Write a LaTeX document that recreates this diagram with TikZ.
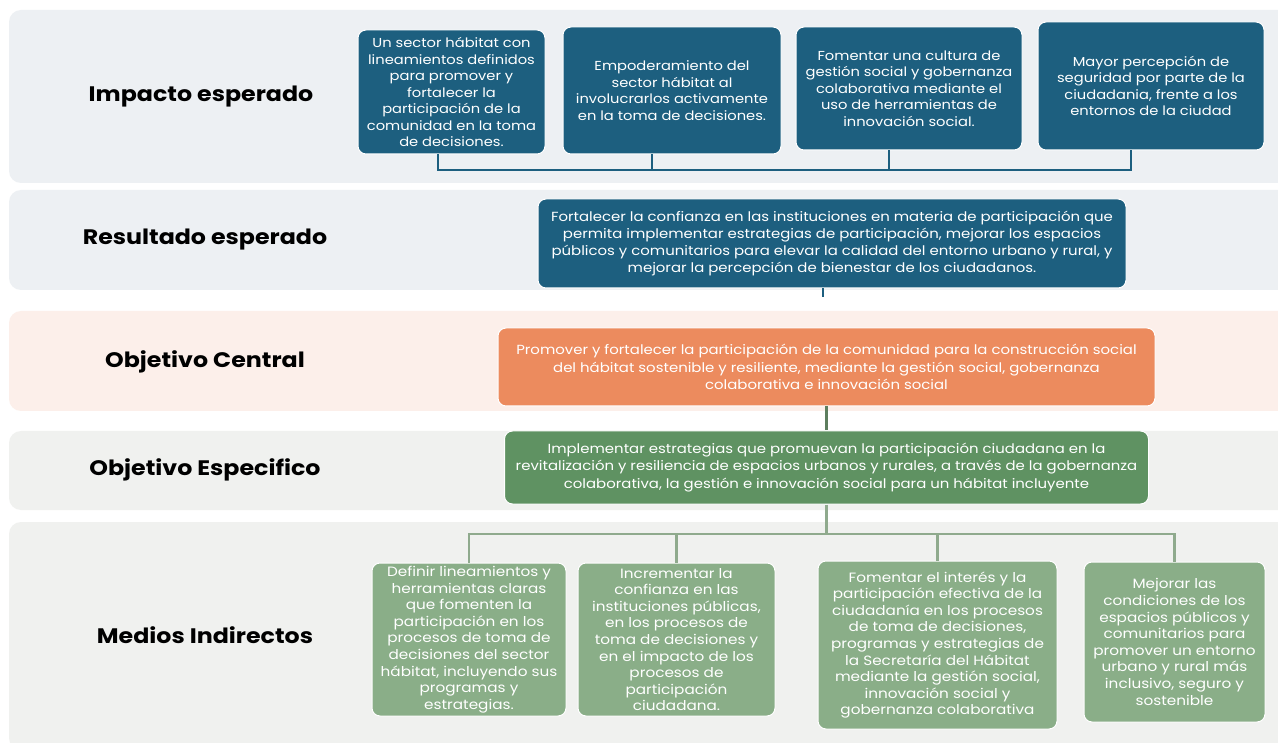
\documentclass[tikz,border=0pt]{standalone}
\usepackage{fontspec}
\setmainfont{Poppins}[FakeStretch=1.13]
\definecolor{bandA}{HTML}{EDF0F3}
\definecolor{bandC}{HTML}{FCEFEA}
\definecolor{bandD}{HTML}{F0F1EF}
\definecolor{blueBox}{HTML}{1D5F7F}
\definecolor{orangeBox}{HTML}{EC8B5E}
\definecolor{greenBox}{HTML}{5F9262}
\definecolor{lightGreen}{HTML}{8AAE88}
\definecolor{lineGreen}{HTML}{8FAA8D}
\definecolor{darkLine}{HTML}{5D7E5E}
\tikzset{
  band/.style={rounded corners=12pt, draw=none},
  rowlabel/.style={font=\bfseries\fontsize{21}{24}\selectfont, text=black, anchor=center},
  box/.style={rounded corners=8pt, draw=white, line width=1pt, text=white, align=center, inner sep=2pt},
  impbox/.style={box, fill=blueBox, font=\fontsize{13}{16.5}\selectfont},
  medbox/.style={box, fill=lightGreen, font=\fontsize{13.5}{16.6}\selectfont},
  wbox/.style={box, font=\fontsize{13.2}{17.3}\selectfont},
  impline/.style={draw=blueBox, line width=1.8pt},
  grnline/.style={draw=lineGreen, line width=2.4pt},
}
\begin{document}
\begin{tikzpicture}[x=1pt,y=-1pt]
\useasboundingbox[fill=white] (0,0) rectangle (1278,743);
% bands
\fill[band, bandA] (9,10) rectangle (1290,183);
\fill[band, bandA] (9,190) rectangle (1290,290);
\fill[band, bandC] (9,311) rectangle (1290,411);
\fill[band, bandD] (9,431) rectangle (1290,510);
\fill[band, bandD] (9,522) rectangle (1290,750);
% row labels
\node[rowlabel] (l1) at (201,97) {Impacto esperado};
\node[rowlabel] (l2) at (205,240) {Resultado esperado};
\node[rowlabel] (l3) at (205,362) {Objetivo Central};
\node[rowlabel] (l4) at (205,470) {Objetivo Especifico};
\node[rowlabel] (l5) at (205,635) {Medios Indirectos};
% impact boxes
\node[impbox, minimum width=187pt, minimum height=124pt] (b1) at (451.5,92)
 {Un sector hábitat con\\lineamientos definidos\\para promover y\\fortalecer la\\participación de la\\comunidad en la toma\\de decisiones.};
\node[impbox, minimum width=218pt, minimum height=127pt] (b2) at (672,90.5)
 {Empoderamiento del\\sector hábitat al\\involucrarlos activamente\\en la toma de decisiones.};
\node[impbox, minimum width=226pt, minimum height=123pt] (b3) at (909,88.5)
 {Fomentar una cultura de\\gestión social y gobernanza\\colaborativa mediante el\\uso de herramientas de\\innovación social.};
\node[impbox, minimum width=226pt, minimum height=128pt] (b4) at (1151,86)
 {Mayor percepción de\\seguridad por parte de la\\ciudadania, frente a los\\entornos de la ciudad};
\coordinate (ib) at (0,170);
\draw[impline] ([xshift=-13.5pt]b1.south) -- ([xshift=-13.5pt]b1.south |- ib) -- ([xshift=-20pt]b4.south |- ib) -- ([xshift=-20pt]b4.south);
\draw[impline] ([xshift=-20pt]b2.south) -- ([xshift=-20pt]b2.south |- ib);
\draw[impline] ([xshift=-20pt]b3.south) -- ([xshift=-20pt]b3.south |- ib);
% resultado
\node[wbox, fill=blueBox, minimum width=588pt, minimum height=89pt] (res) at (832,243.5)
 {Fortalecer la confianza en las instituciones en materia de participación que\\permita implementar estrategias de participación, mejorar los espacios\\públicos y comunitarios para elevar la calidad del entorno urbano y rural, y\\mejorar la percepción de bienestar de los ciudadanos.};
\coordinate (rend) at (823,297);
\draw[impline] ([xshift=-9pt]res.south) -- ([xshift=-9pt]res.south |- rend);
% objetivo central
\node[wbox, fill=orangeBox, minimum width=657pt, minimum height=78pt] (oc) at (826.5,367)
 {Promover y fortalecer la participación de la comunidad para la construcción social\\del hábitat sostenible y resiliente, mediante la gestión social, gobernanza\\colaborativa e innovación social};
% objetivo especifico
\node[wbox, fill=greenBox, minimum width=644pt, minimum height=73pt] (oe) at (826.5,467.5)
 {Implementar estrategias que promuevan la participación ciudadana en la\\revitalización y resiliencia de espacios urbanos y rurales, a través de la gobernanza\\colaborativa, la gestión e innovación social para un hábitat incluyente};
\draw[draw=darkLine, line width=2.4pt] (oc.south) -- (oe.north);
% medios
\node[medbox, minimum width=194pt, minimum height=153pt] (m1) at (469,639.5)
 {Definir lineamientos y\\herramientas claras\\que fomenten la\\participación en los\\procesos de toma de\\decisiones del sector\\hábitat, incluyendo sus\\programas y\\estrategias.};
\node[medbox, minimum width=197pt, minimum height=153pt] (m2) at (676.5,639.5)
 {Incrementar la\\confianza en las\\instituciones públicas,\\en los procesos de\\toma de decisiones y\\en el impacto de los\\procesos de\\participación\\ciudadana.};
\node[medbox, minimum width=239pt, minimum height=168pt] (m3) at (937.5,645)
 {Fomentar el interés y la\\participación efectiva de la\\ciudadanía en los procesos\\de toma de decisiones,\\programas y estrategias de\\la Secretaría del Hábitat\\mediante la gestión social,\\innovación social y\\gobernanza colaborativa};
\node[medbox, minimum width=181pt, minimum height=160pt] (m4) at (1174.5,642)
 {Mejorar las\\condiciones de los\\espacios públicos y\\comunitarios para\\promover un entorno\\urbano y rural más\\inclusivo, seguro y\\sostenible};
\coordinate (mb) at (0,534);
\draw[grnline] (oe.south) -- (oe.south |- mb);
\draw[grnline] (m1.north) -- (m1.north |- mb) -- (m4.north |- mb) -- (m4.north);
\draw[grnline] (m2.north) -- (m2.north |- mb);
\draw[grnline] (m3.north) -- (m3.north |- mb);
\end{tikzpicture}
\end{document}
